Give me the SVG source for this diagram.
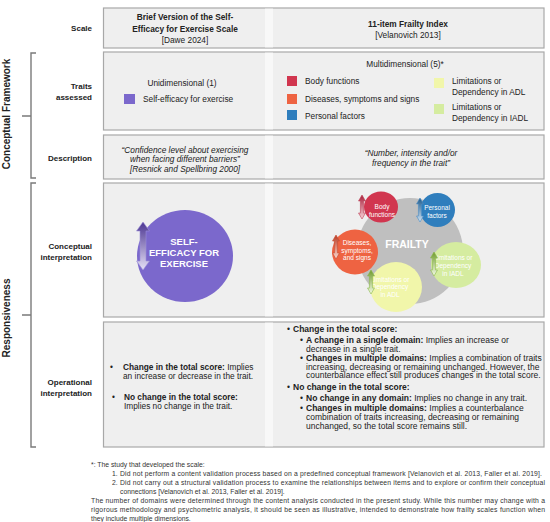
<svg xmlns="http://www.w3.org/2000/svg" width="550" height="522" viewBox="0 0 550 522">
<style>
.box{fill:#efefef;stroke:#a8a8a8;stroke-width:1.2}
.strip{fill:#f8f8f8}
.lbl{font-family:"Liberation Sans",Arial,sans-serif;font-size:8px;font-weight:bold;fill:#222;text-anchor:end}
.side{font-family:"Liberation Sans",Arial,sans-serif;font-size:10px;font-weight:bold;fill:#222;text-anchor:middle}
.t{font-family:"Liberation Sans",Arial,sans-serif;font-size:8.3px;fill:#222}
.t2{font-family:"Liberation Sans",Arial,sans-serif;font-size:8.5px;fill:#222}
.c{text-anchor:middle}
.b{font-weight:bold}
.i{font-style:italic}
.w{font-family:"Liberation Sans",Arial,sans-serif;fill:#fff;text-anchor:middle}
.fn{font-family:"Liberation Sans",Arial,sans-serif;font-size:6.8px;fill:#333}
.br{fill:none;stroke:#7a7a7a;stroke-width:1.4}
.arr{stroke-width:0.6}
</style>
<defs>
<path id="sa" d="M0,0 L3.5,6 L1.6,6 L1.6,18 L3.5,18 L0,24 L-3.5,18 L-1.6,18 L-1.6,6 L-3.5,6 Z"/>
<linearGradient id="gP" x1="0" y1="0" x2="0" y2="1"><stop offset="0" stop-color="#4b3591"/><stop offset="1" stop-color="#e6e1f6"/></linearGradient>
<linearGradient id="gR" x1="0" y1="0" x2="0" y2="1"><stop offset="0" stop-color="#a8203a"/><stop offset="1" stop-color="#f7d3d9"/></linearGradient>
<linearGradient id="gO" x1="0" y1="0" x2="0" y2="1"><stop offset="0" stop-color="#b83a22"/><stop offset="1" stop-color="#fbd9d0"/></linearGradient>
<linearGradient id="gB" x1="0" y1="0" x2="0" y2="1"><stop offset="0" stop-color="#1d5a8c"/><stop offset="1" stop-color="#cfe2f2"/></linearGradient>
<linearGradient id="gG" x1="0" y1="0" x2="0" y2="1"><stop offset="0" stop-color="#6f9a2c"/><stop offset="1" stop-color="#f4fbe6"/></linearGradient>
</defs>

<g id="brackets">
<path class="br" d="M36,53 H31 V178 H36 M31,116 H22"/>
<path class="br" d="M36,183 H31 V447 H36 M31,315 H22"/>
<text class="side" transform="translate(10,114) rotate(-90)">Conceptual Framework</text>
<text class="side" transform="translate(10,318) rotate(-90)">Responsiveness</text>
</g>

<g id="row-scale">
<rect class="box" x="103.5" y="8" width="440.5" height="40"/>
<rect class="strip" x="265" y="8.6" width="8" height="38.8"/>
<text class="lbl" x="92" y="31">Scale</text>
<text class="t c b" x="185" y="20" font-size="9">Brief Version of the Self-</text>
<text class="t c b" x="185" y="31.5" font-size="9">Efficacy for Exercise Scale</text>
<text class="t c" x="185" y="43">[Dawe 2024]</text>
<text class="t c b" x="408" y="27" font-size="9">11-item Frailty Index</text>
<text class="t c" x="408" y="37.5">[Velanovich 2013]</text>
</g>

<g id="row-traits">
<rect class="box" x="103.5" y="52" width="440.5" height="78"/>
<rect class="strip" x="265" y="52.6" width="8" height="76.8"/>
<text class="lbl" x="92" y="89">Traits</text>
<text class="lbl" x="92" y="100">assessed</text>
<text class="t c" x="182" y="86">Unidimensional (1)</text>
<rect x="124" y="94" width="11" height="10" fill="#7b68cc"/>
<text class="t" x="143" y="102">Self-efficacy for exercise</text>
<text class="t c" x="405" y="67">Multidimensional (5)*</text>
<rect x="287" y="76" width="10" height="10" fill="#d1364f"/>
<text class="t" x="305" y="84">Body functions</text>
<rect x="287" y="94" width="10" height="10" fill="#ee6342"/>
<text class="t" x="305" y="102">Diseases, symptoms and signs</text>
<rect x="287" y="110" width="10" height="10" fill="#2f7ebd"/>
<text class="t" x="305" y="119">Personal factors</text>
<rect x="434" y="78" width="10" height="10" fill="#f1f6aa"/>
<text class="t" x="452" y="84">Limitations or</text>
<text class="t" x="452" y="95">Dependency in ADL</text>
<rect x="434" y="104" width="10" height="10" fill="#d5eca0"/>
<text class="t" x="452" y="110">Limitations or</text>
<text class="t" x="452" y="121">Dependency in IADL</text>
</g>

<g id="row-description">
<rect class="box" x="103.5" y="135" width="440.5" height="44"/>
<rect class="strip" x="265" y="135.6" width="8" height="42.8"/>
<text class="lbl" x="92" y="161">Description</text>
<text class="t c i" x="185" y="152.5">“Confidence level about exercising</text>
<text class="t c i" x="185" y="162">when facing different barriers”</text>
<text class="t c i" x="185" y="171.5">[Resnick and Spellbring 2000]</text>
<text class="t c i" x="411" y="156">“Number, intensity and/or</text>
<text class="t c i" x="411" y="166">frequency in the trait”</text>
</g>

<g id="row-conceptual">
<rect class="box" x="103.5" y="183" width="440.5" height="134"/>
<rect class="strip" x="265" y="183.6" width="8" height="132.8"/>
<text class="lbl" x="92" y="249">Conceptual</text>
<text class="lbl" x="92" y="260">interpretation</text>
<g id="self-efficacy">
<ellipse cx="185" cy="256" rx="48" ry="46" fill="#7b68cc"/>
<text class="w b" x="184" y="245" font-size="9.5">SELF-</text>
<text class="w b" x="184" y="256" font-size="9.5">EFFICACY FOR</text>
<text class="w b" x="184" y="266.5" font-size="9.5">EXERCISE</text>
<path d="M143,222 L149.5,231 L146,231 L146,261 L149.5,261 L143,270 L136.5,261 L140,261 L140,231 L136.5,231 Z" fill="url(#gP)" stroke="#9c8fd8" stroke-width="0.6"/>
</g>
<g id="frailty">
<circle cx="410" cy="251" r="53" fill="#bfbfbf"/>
<text class="w b" x="407" y="248" font-size="10.5">FRAILTY</text>
</g>
<g id="body-functions">
<ellipse cx="381" cy="207" rx="17" ry="15.5" fill="#d1364f"/>
<text class="w" x="382" y="209" font-size="6.5">Body</text>
<text class="w" x="382" y="216.5" font-size="6.5">functions</text>
<use href="#sa" transform="translate(362,195)" fill="url(#gR)" stroke="#c04058" class="arr"/>
</g>
<g id="personal-factors">
<ellipse cx="437.5" cy="210" rx="17.5" ry="17" fill="#2f7ebd"/>
<text class="w" x="437" y="210" font-size="6.5">Personal</text>
<text class="w" x="437" y="217.5" font-size="6.5">factors</text>
<use href="#sa" transform="translate(420,198)" fill="url(#gB)" stroke="#4a8cc4" class="arr"/>
</g>
<g id="diseases">
<ellipse cx="355" cy="252" rx="23" ry="22.5" fill="#ee6342"/>
<text class="w" x="357" y="244.5" font-size="6.5">Diseases,</text>
<text class="w" x="357" y="252.5" font-size="6.5">symptoms,</text>
<text class="w" x="357" y="260" font-size="6.5">and signs</text>
<use href="#sa" transform="translate(336,235)" fill="url(#gO)" stroke="#c84a30" class="arr"/>
</g>
<g id="iadl">
<ellipse cx="456" cy="265" rx="25" ry="23" fill="#d5eca0"/>
<text class="w" x="453" y="260" font-size="6.5">Limitations or</text>
<text class="w" x="453" y="268" font-size="6.5">Dependency</text>
<text class="w" x="453" y="276" font-size="6.5">in IADL</text>
<use href="#sa" transform="translate(434,252)" fill="url(#gG)" stroke="#8ab84a" class="arr"/>
</g>
<g id="adl">
<ellipse cx="396" cy="287" rx="26" ry="25" fill="#f1f6aa"/>
<text class="w" x="390" y="281.5" font-size="6.5">Limitations or</text>
<text class="w" x="390" y="289" font-size="6.5">Dependency</text>
<text class="w" x="390" y="297" font-size="6.5">in ADL</text>
<use href="#sa" transform="translate(371,270)" fill="url(#gG)" stroke="#8ab84a" class="arr"/>
</g>
</g>

<g id="row-operational">
<rect class="box" x="103.5" y="322" width="440.5" height="125"/>
<rect class="strip" x="265" y="322.6" width="8" height="123.8"/>
<text class="lbl" x="92" y="385">Operational</text>
<text class="lbl" x="92" y="396">interpretation</text>
<text class="t" x="110" y="370">•</text>
<text class="t" x="123" y="370"><tspan class="b">Change in the total score:</tspan> Implies</text>
<text class="t" x="123" y="379">an increase or decrease in the trait.</text>
<text class="t" x="112" y="400">•</text>
<text class="t" x="124" y="400"><tspan class="b">No change in the total score:</tspan></text>
<text class="t" x="124" y="409">Implies no change in the trait.</text>

<text class="t2" x="287" y="332">•</text>
<text class="t2 b" x="293" y="332">Change in the total score:</text>
<text class="t2" x="300" y="343">•</text>
<text class="t2" x="306" y="343"><tspan class="b">A change in a single domain:</tspan> Implies an increase or</text>
<text class="t2" x="306" y="351.5">decrease in a single trait.</text>
<text class="t2" x="300" y="361">•</text>
<text class="t2" x="306" y="361"><tspan class="b">Changes in multiple domains:</tspan> Implies a combination of traits</text>
<text class="t2" x="306" y="369.5">increasing, decreasing or remaining unchanged. However, the</text>
<text class="t2" x="306" y="378">counterbalance effect still produces changes in the total score.</text>
<text class="t2" x="287" y="390">•</text>
<text class="t2 b" x="293" y="390">No change in the total score:</text>
<text class="t2" x="300" y="401">•</text>
<text class="t2" x="306" y="401"><tspan class="b">No change in any domain:</tspan> Implies no change in any trait.</text>
<text class="t2" x="300" y="411">•</text>
<text class="t2" x="306" y="411"><tspan class="b">Changes in multiple domains:</tspan> Implies a counterbalance</text>
<text class="t2" x="306" y="420">combination of traits increasing, decreasing or remaining</text>
<text class="t2" x="306" y="428.5">unchanged, so the total score remains still.</text>
</g>

<g id="footnote">
<text class="fn" x="91" y="467">*: The study that developed the scale:</text>
<text class="fn" x="112" y="476">1.</text>
<text class="fn" x="120" y="476" textLength="422" lengthAdjust="spacing">Did not perform a content validation process based on a predefined conceptual framework [Velanovich et al. 2013, Faller et al. 2019].</text>
<text class="fn" x="112" y="485">2.</text>
<text class="fn" x="120" y="485" textLength="425" lengthAdjust="spacing">Did not carry out a structural validation process to examine the relationships between items and to explore or confirm their conceptual</text>
<text class="fn" x="120" y="494">connections [Velanovich et al. 2013, Faller et al. 2019].</text>
<text class="fn" x="91" y="503" textLength="454" lengthAdjust="spacing">The number of domains were determined through the content analysis conducted in the present study. While this number may change with a</text>
<text class="fn" x="91" y="512" textLength="454" lengthAdjust="spacing">rigorous methodology and psychometric analysis, it should be seen as illustrative, intended to demonstrate how frailty scales function when</text>
<text class="fn" x="91" y="521">they include multiple dimensions.</text>
</g>
</svg>
